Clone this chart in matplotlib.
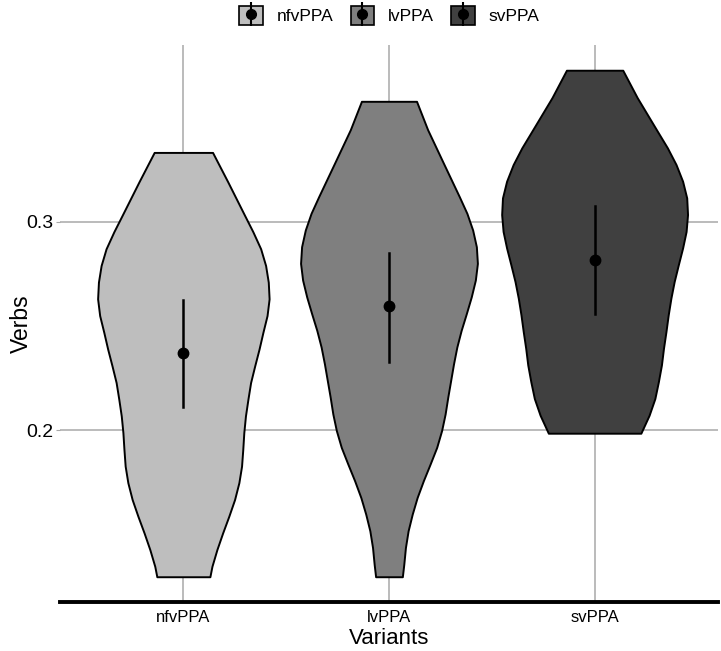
import numpy as np
import matplotlib.pyplot as plt
from matplotlib.patches import Patch
from matplotlib.lines import Line2D

plt.rcParams['font.family'] = ['Liberation Sans', 'DejaVu Sans']

# categories and summary values (mean, lower, upper)
variants = ["nfvPPA", "lvPPA", "svPPA"]
means = [0.2370, 0.2595, 0.2816]
lower = [0.2111, 0.2328, 0.2558]
upper = [0.2625, 0.2850, 0.3074]
fills = ["#bebebe", "#7f7f7f", "#404040"]

# violin outlines: y value and half width (x units)
nfv_y = [0.3332, 0.3191, 0.3030, 0.2952, 0.2870, 0.2790, 0.2710, 0.2630,
         0.2550, 0.2470, 0.2389, 0.2309, 0.2229, 0.2149, 0.2069, 0.1989,
         0.1909, 0.1828, 0.1749, 0.1668, 0.1588, 0.1508, 0.1428, 0.1348, 0.1298]
nfv_w = [0.142, 0.216, 0.298, 0.338, 0.376, 0.400, 0.413, 0.417,
         0.407, 0.387, 0.368, 0.347, 0.327, 0.314, 0.302, 0.294,
         0.289, 0.283, 0.270, 0.249, 0.221, 0.191, 0.163, 0.139, 0.129]
lv_y = [0.3577, 0.3441, 0.3280, 0.3120, 0.3040, 0.2960, 0.2880, 0.2800,
        0.2720, 0.2639, 0.2559, 0.2479, 0.2399, 0.2319, 0.2239, 0.2159,
        0.2078, 0.1999, 0.1918, 0.1838, 0.1758, 0.1678, 0.1598, 0.1518,
        0.1438, 0.1357, 0.1298]
lv_w = [0.134, 0.188, 0.265, 0.342, 0.379, 0.407, 0.425, 0.430,
        0.420, 0.400, 0.376, 0.351, 0.330, 0.314, 0.300, 0.286,
        0.273, 0.256, 0.232, 0.200, 0.167, 0.137, 0.113, 0.093,
        0.080, 0.072, 0.065]
sv_y = [0.3726, 0.3595, 0.3434, 0.3354, 0.3274, 0.3194, 0.3114, 0.3034,
        0.2953, 0.2874, 0.2793, 0.2713, 0.2633, 0.2553, 0.2473, 0.2393,
        0.2313, 0.2232, 0.2152, 0.2072, 0.1986]
sv_w = [0.137, 0.207, 0.305, 0.354, 0.396, 0.428, 0.448, 0.452,
        0.445, 0.428, 0.407, 0.387, 0.371, 0.358, 0.347, 0.335,
        0.325, 0.310, 0.293, 0.265, 0.225]

profiles = [(nfv_y, nfv_w), (lv_y, lv_w), (sv_y, sv_w)]

fig = plt.figure(figsize=(7.21, 6.51), dpi=100)
ax = fig.add_axes([0.0832, 0.0753, 0.9126, 0.8556])

for i, (py, pw) in enumerate(profiles):
    pos = i + 1
    py = np.array(py)
    pw = np.array(pw)
    ax.fill_betweenx(py, pos - pw, pos + pw, facecolor=fills[i],
                     edgecolor="black", linewidth=1.4, zorder=2)
    ax.plot([pos, pos], [lower[i], upper[i]], color="black", lw=1.8, zorder=3)
    ax.plot(pos, means[i], "o", color="black", ms=7.5, zorder=4)

ax.set_xlim(0.4, 3.6)
ax.set_ylim(0.1177, 0.3847)
ax.set_xticks([1, 2, 3])
ax.set_xticklabels(variants, fontsize=12)
ax.set_yticks([0.2, 0.3])
ax.set_yticklabels(["0.2", "0.3"], fontsize=14)
ax.grid(True, color="#a8a8a8", linewidth=1.1, zorder=0)
ax.set_axisbelow(True)
for s in ["top", "right", "left"]:
    ax.spines[s].set_visible(False)
ax.spines["bottom"].set_linewidth(2.8)
ax.spines["bottom"].set_color("black")
ax.spines["bottom"].set_zorder(5)
ax.tick_params(axis="y", length=3, color="#a8a8a8", pad=2)
ax.tick_params(axis="x", length=0, pad=6)
ax.set_xlabel("Variants", fontsize=16, labelpad=2)
ax.set_ylabel("Verbs", fontsize=16.5, labelpad=-5)

handles = []
for c in fills:
    handles.append((Patch(facecolor=c, edgecolor="black", linewidth=1.2),
                    Line2D([], [], marker="|", ms=17, mew=1.5, color="black", ls="none"),
                    Line2D([], [], marker="o", ms=7, color="black", ls="none")))
fig.legend(handles, variants, loc="upper center", bbox_to_anchor=(0.54, 1.015),
           ncol=3, frameon=False, fontsize=12.5, handlelength=1.35,
           handleheight=1.35, columnspacing=1.0, handletextpad=0.8)

fig.savefig("out.png", dpi=100)
